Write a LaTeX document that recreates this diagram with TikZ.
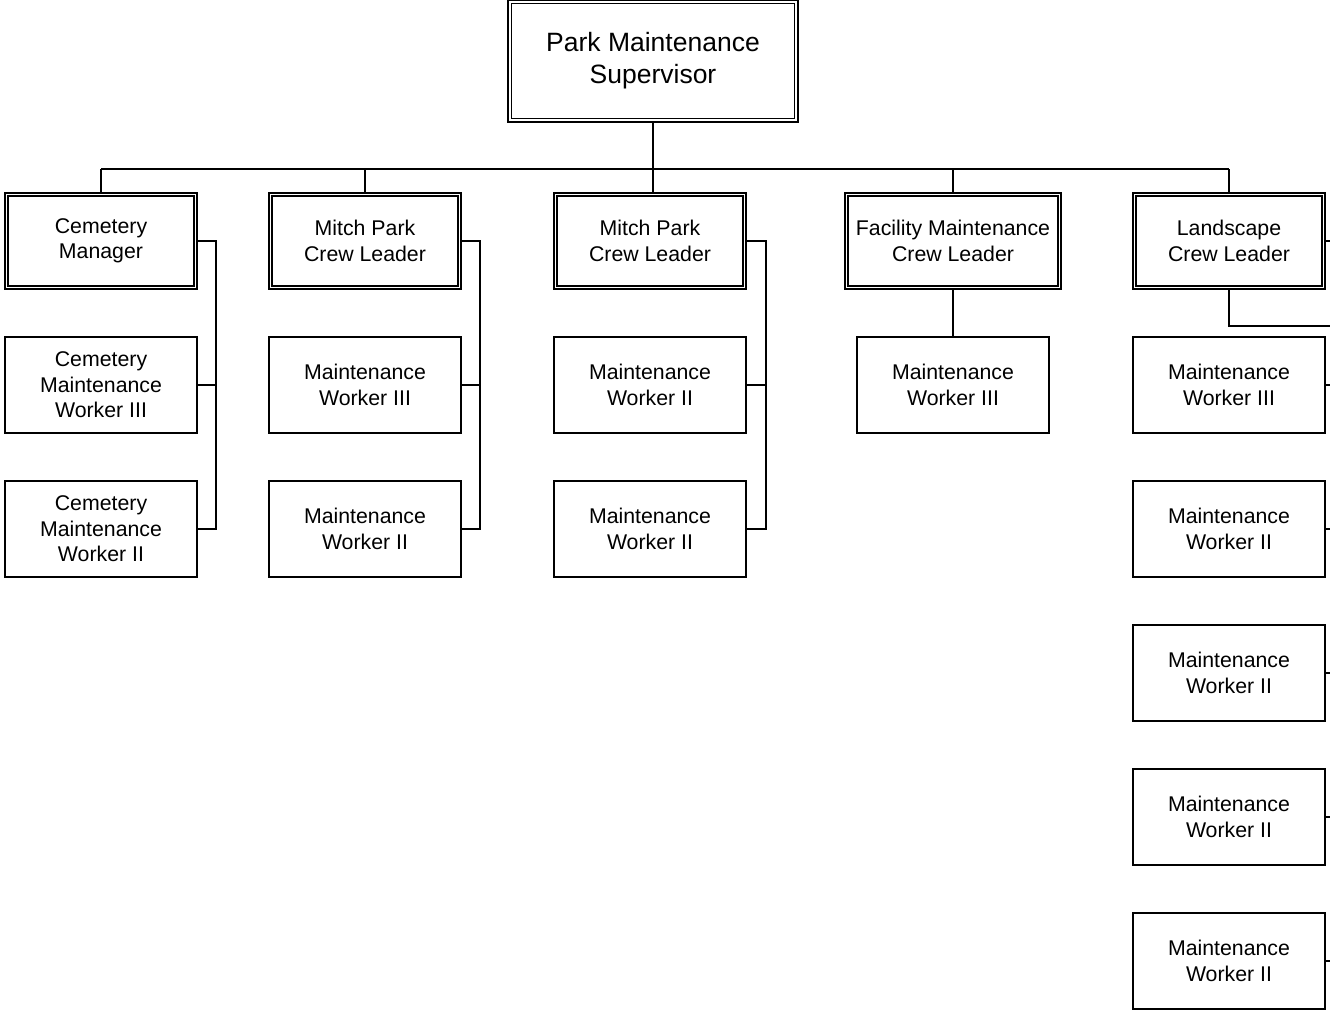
\documentclass[tikz,border=0pt]{standalone}
\usepackage{fontspec}
\setmainfont{Liberation Sans}
\begin{document}
\begin{tikzpicture}[x=1pt,y=-1pt,
  box/.style={draw,line width=1.8pt,minimum width=192pt,minimum height=96pt,inner sep=0pt,align=center,
    font=\fontsize{21.3}{25.5}\selectfont},
  dbox/.style={box,line width=2pt},
  inner/.style={draw,line width=1.2pt},
  conn/.style={line width=1.5pt}]
\useasboundingbox (0,0) rectangle (1330,1010);
% top
\node[box,line width=2.4pt,minimum width=290pt,minimum height=122pt,font=\fontsize{26.5}{32}\selectfont] (top) at (653,61) {Park Maintenance\\Supervisor};
\draw[line width=1.3pt] ([xshift=5pt,yshift=-5pt]top.north west) rectangle ([xshift=-5pt,yshift=5pt]top.south east);
% level 2
\node[dbox] (cem) at (101,241) {Cemetery\\Manager};
\node[dbox] (mp1) at (365,241) {Mitch Park\\Crew Leader};
\node[dbox] (mp2) at (650,241) {Mitch Park\\Crew Leader};
\node[dbox,minimum width=216pt] (fac) at (953,241) {Facility Maintenance\\Crew Leader};
\node[dbox] (lan) at (1229,241) {Landscape\\Crew Leader};
\foreach \n in {cem,mp1,mp2,fac,lan}{
  \draw[inner] ([xshift=4pt,yshift=-4pt]\n.north west) rectangle ([xshift=-4pt,yshift=4pt]\n.south east);}
% level 3
\node[box] (c1) at (101,385) {Cemetery\\Maintenance\\Worker III};
\node[box] (c2) at (101,529) {Cemetery\\Maintenance\\Worker II};
\node[box] (m1) at (365,385) {Maintenance\\Worker III};
\node[box] (m2) at (365,529) {Maintenance\\Worker II};
\node[box] (n1) at (650,385) {Maintenance\\Worker II};
\node[box] (n2) at (650,529) {Maintenance\\Worker II};
\node[box] (f1) at (953,385) {Maintenance\\Worker III};
\node[box] (l1) at (1229,385) {Maintenance\\Worker III};
\node[box] (l2) at (1229,529) {Maintenance\\Worker II};
\node[box] (l3) at (1229,673) {Maintenance\\Worker II};
\node[box] (l4) at (1229,817) {Maintenance\\Worker II};
\node[box] (l5) at (1229,961) {Maintenance\\Worker II};
% bus
\coordinate (busL) at (101,169);
\coordinate (busR) at (1229,169);
\draw[conn] (top.south) -- (653,169);
\draw[conn] (busL) -- (busR);
\draw[conn] (busL) -- (cem.north);
\draw[conn] (365,169) -- (mp1.north);
\draw[conn] (653,169) -- (653,193);
\draw[conn] (953,169) -- (fac.north);
\draw[conn] (busR) -- (lan.north);
% side connectors
\draw[conn] (cem.east) -| (216,529) -- (c2.east);
\draw[conn] (c1.east) -- (216,385);
\draw[conn] (mp1.east) -| (480,529) -- (m2.east);
\draw[conn] (m1.east) -- (480,385);
\draw[conn] (mp2.east) -| (766,529) -- (n2.east);
\draw[conn] (n1.east) -- (766,385);
\draw[conn] (fac.south) -- (f1.north);
% landscape (cut at right edge)
\coordinate (edge) at (1331,326);
\draw[conn] (lan.south) |- (edge);
\foreach \n in {lan,l1,l2,l3,l4,l5}{\draw[conn] (\n.east) -- ++(6,0);}
\end{tikzpicture}
\end{document}
